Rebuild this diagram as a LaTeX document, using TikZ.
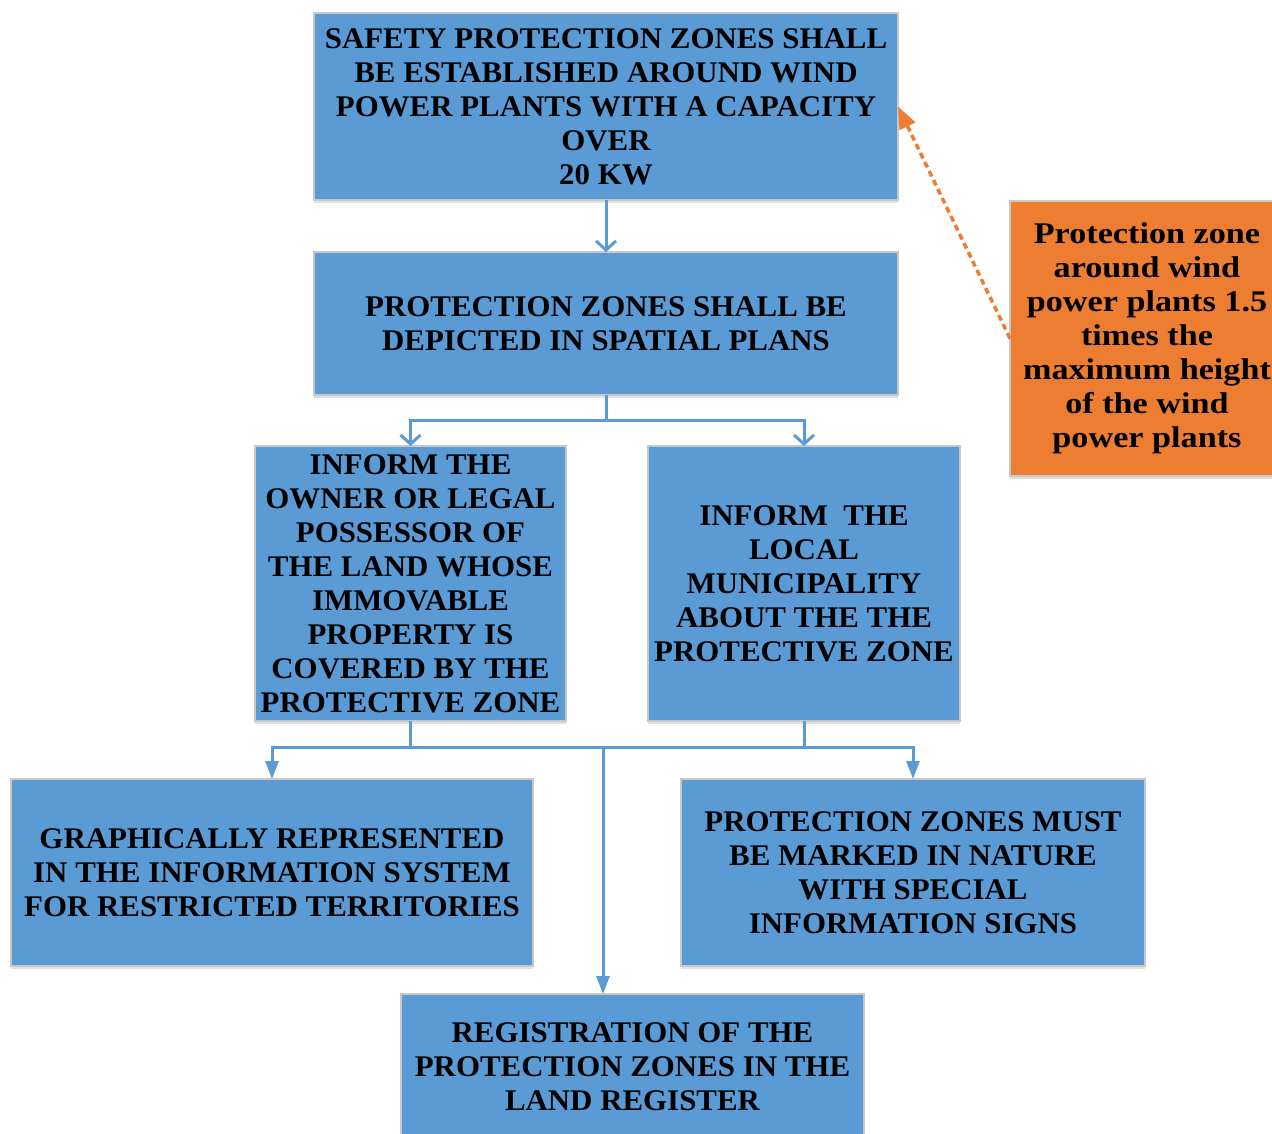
\documentclass[tikz,border=0pt]{standalone}
\usepackage{fontspec}
\setmainfont{Liberation Serif}[FakeStretch=1.03]
\newfontfamily\widefont{Liberation Serif}[FakeStretch=1.14]
\usetikzlibrary{arrows.meta,shadows}
\definecolor{boxblue}{HTML}{5B9BD5}
\definecolor{boxorange}{HTML}{ED7D31}
\definecolor{boxedge}{HTML}{C8C8C8}
\begin{document}
\begin{tikzpicture}[x=1pt,y=-1pt,
  box/.style={rectangle, fill=boxblue, draw=boxedge, line width=1.5pt,
    inner sep=0pt, outer sep=0pt, align=center,
    font=\fontsize{30}{34}\selectfont\bfseries,
    drop shadow={shadow xshift=0pt, shadow yshift=-3pt, opacity=0.12, fill=black}},
  note/.style={box, fill=boxorange,
    font=\widefont\fontsize{30}{34}\selectfont\bfseries},
  conn/.style={draw=boxblue, line width=3pt},
  barb/.style={conn, -{Straight Barb[length=9pt,width=20pt,line width=3pt]}},
  tri/.style={conn, -{Triangle[length=18pt,width=13pt]}},
  hint/.style={draw=boxorange, line width=3.5pt, dash pattern=on 6pt off 4pt,
    -{Triangle[length=22pt,width=17pt]}}
]
\useasboundingbox (0,0) rectangle (1272,1133);

% boxes
\node[box, minimum width=584, minimum height=187] (b1) at (606,106.5)
  {SAFETY PROTECTION ZONES SHALL\\BE ESTABLISHED AROUND WIND\\POWER PLANTS WITH A CAPACITY\\OVER\\20 KW};
\node[box, minimum width=584, minimum height=143] (b2) at (606,323.5)
  {PROTECTION ZONES SHALL BE\\DEPICTED IN SPATIAL PLANS};
\node[box, minimum width=311, minimum height=275] (b3) at (410.5,583.5)
  {INFORM THE\\OWNER OR LEGAL\\POSSESSOR OF\\THE LAND WHOSE\\IMMOVABLE\\PROPERTY IS\\COVERED BY THE\\PROTECTIVE ZONE};
\node[box, minimum width=312, minimum height=275] (b4) at (804,583.5)
  {INFORM\ \ THE\\LOCAL\\MUNICIPALITY\\ABOUT THE THE\\PROTECTIVE ZONE};
\node[box, minimum width=522, minimum height=187] (b5) at (272,872.5)
  {GRAPHICALLY REPRESENTED\\IN THE INFORMATION SYSTEM\\FOR RESTRICTED TERRITORIES};
\node[box, minimum width=464, minimum height=187] (b6) at (913,872.5)
  {PROTECTION ZONES MUST\\BE MARKED IN NATURE\\WITH SPECIAL\\INFORMATION SIGNS};
\node[box, minimum width=463, minimum height=146] (b7) at (632.5,1067)
  {REGISTRATION OF THE\\PROTECTION ZONES IN THE\\LAND REGISTER};
\node[note, minimum width=274, minimum height=275] (o) at (1147,338.5)
  {Protection zone\\around wind\\power plants 1.5\\times the\\maximum height\\of the wind\\power plants};

% connectors
\draw[barb] (b1.south) -- (b2.north);
\coordinate (j1) at (606,420);
\draw[conn] (b2.south) -- (j1);
\draw[barb] (j1) -| (b3.north);
\draw[barb] (j1) -| (b4.north);

\coordinate (j2) at (603,747);
\draw[conn] (b3.south) -- (b3.south |- j2);
\draw[conn] (b4.south) -- (b4.south |- j2);
\draw[tri] (j2) -| (b5.north);
\draw[tri] (j2) -| (b6.north);
\draw[tri] (j2) -- (j2 |- b7.north);

\draw[hint] (o.west) -- (b1.east);
\end{tikzpicture}
\end{document}
